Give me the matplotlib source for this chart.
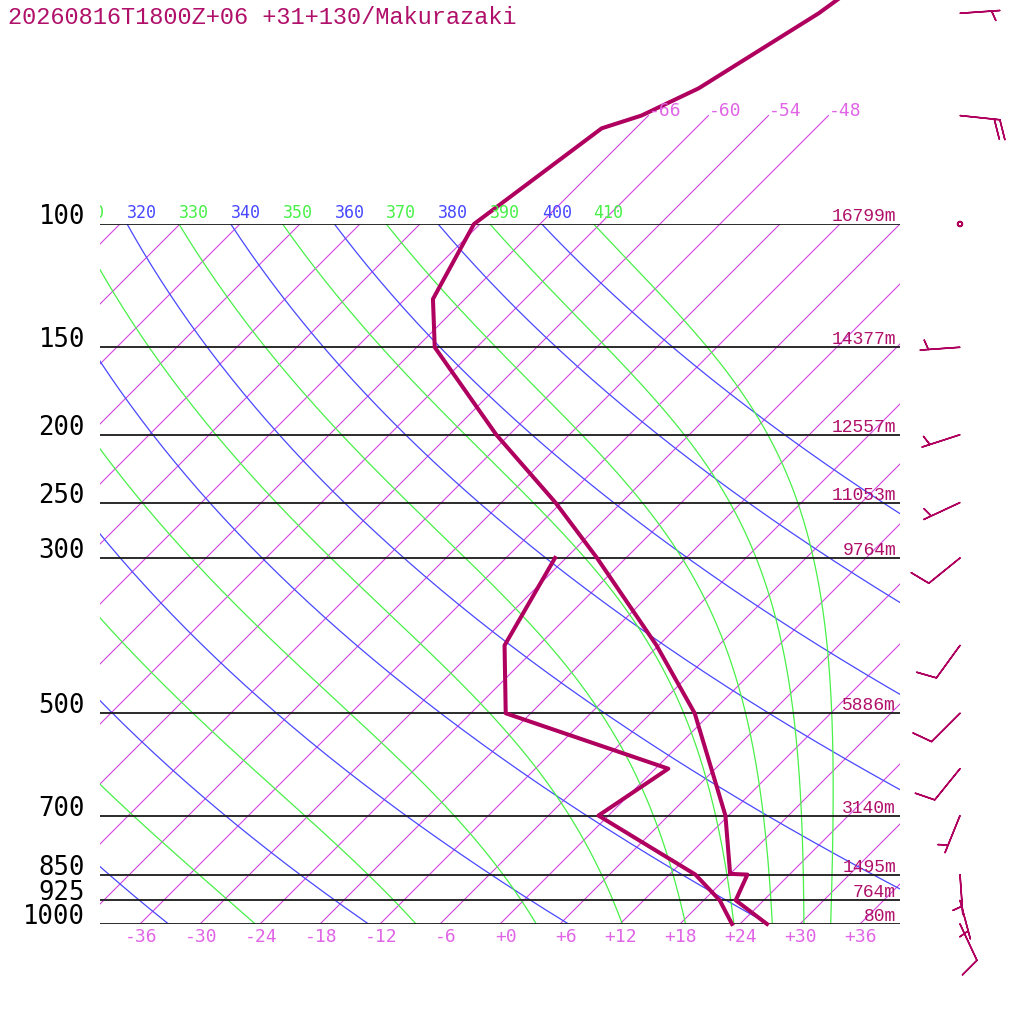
import numpy as np
import matplotlib
matplotlib.use("Agg")
import matplotlib.pyplot as plt
from matplotlib import transforms

# ---- sounding data ----
title = "20260816T1800Z+06 +31+130/Makurazaki"

temp_p = [1000, 925, 850, 848, 700, 500, 400, 300, 250, 200, 150, 128, 100, 73, 70, 64, 50, 45]
temp_t = [26.7, 21.2, 19.8, 18.0, 11.7, -1.6, -12.2, -26.9, -36.6, -49.3, -64.2, -69.2, -72.6,
          -69.4, -66.7, -63.7, -59.2, -58.0]

dew_p = [1000, 925, 850, 700, 600, 500, 400, 300]
dew_t = [23.2, 19.6, 14.6, -1.0, 1.3, -20.5, -27.4, -31.1]

level_p = [100, 150, 200, 250, 300, 500, 700, 850, 925, 1000]
level_h = [16799, 14377, 12557, 11053, 9764, 5886, 3140, 1495, 764, 80]

wind_p = [1000, 925, 850, 700, 600, 500, 400, 300, 250, 200, 150, 100, 70, 50]
wind_dir = [155, 165, 176, 202, 219, 225, 216, 231, 245, 252, 266, 0, 96, 86]
wind_spd = [10, 5, 5, 5, 10, 10, 10, 10, 5, 5, 5, 0, 20, 5]

iso_temps = np.arange(-150, 41, 6)
iso_labels = np.arange(-36, 37, 6)
iso_upper = [-66, -60, -54, -48]
dry_thetas = np.arange(240, 401, 20)
moist_thetas = np.arange(250, 411, 20)

# colours
C_PROF = "#b0005f"
C_TEXT = "#b0106a"
C_ISO = "#d444e0"
C_ISO_TXT = "#e064e6"
C_DRY = "#4848ff"
C_MOIST = "#48f048"

RD, CPD, LV, EPS = 287.04, 1005.7, 2.501e6, 0.622
KAPPA = RD / CPD


def sat_mixing(p, tk):
    tc = tk - 273.15
    es = 6.112 * np.exp(17.67 * tc / (tc + 243.5))
    return EPS * es / (p - es)


def dlnp(lnp, tk):
    p = np.exp(lnp)
    rs = sat_mixing(p, tk)
    return (RD * tk + LV * rs) / (CPD + LV ** 2 * rs * EPS / (RD * tk ** 2))


def moist_curve(theta, plev):
    # start (nearly dry) at the top and walk down the pseudo-adiabat
    tk = theta * (plev[0] / 1000.0) ** KAPPA
    out = [tk]
    for p0, p1 in zip(plev[:-1], plev[1:]):
        a, b = np.log(p0), np.log(p1)
        h = b - a
        k1 = dlnp(a, tk)
        k2 = dlnp(a + h / 2, tk + h * k1 / 2)
        k3 = dlnp(a + h / 2, tk + h * k2 / 2)
        k4 = dlnp(b, tk + h * k3)
        tk = tk + h * (k1 + 2 * k2 + 2 * k3 + k4) / 6
        out.append(tk)
    return np.array(out) - 273.15


fig = plt.figure(figsize=(10.24, 10.24), dpi=100)
ax = fig.add_axes([100 / 1024, 100 / 1024, 800 / 1024, 700 / 1024])
ax.set_yscale("log")
ax.set_xlim(-40, 40)
ax.set_ylim(1000, 100)
ax.axis("off")

# 45 degree skew in display space, anchored at the 1000 hPa line
y0 = 100
skew = transforms.Affine2D().translate(0, -y0).skew_deg(45, 0).translate(0, y0)
tr = ax.transData + skew

plev = np.geomspace(100, 1000, 300)
label_clip = transforms.Bbox.from_extents(100, 0, 900, 1024)


def theta_label(t100, th, color):
    # label sits on the 100 hPa line; skip the ones that fall wholly left of the frame
    x_px = tr.transform((t100, 100))[0]
    if x_px < 60:
        return
    txt = ax.text(t100, 100, "%d" % th, color=color, fontsize=12, family="DejaVu Sans Mono",
                  ha="left", va="baseline",
                  transform=transforms.offset_copy(tr, fig, x=0, y=6, units="dots"))
    txt.set_clip_box(label_clip)
    txt.set_clip_on(True)


# isotherms
for t in iso_temps:
    ax.plot([t, t], [1000, 100], color=C_ISO, lw=0.8, transform=tr)
for t in iso_upper:
    ax.plot([t, t], [100, 70], color=C_ISO, lw=0.8, transform=tr, clip_on=False)
    ax.text(t, 70, "%d" % t, color=C_ISO_TXT, fontsize=13, family="DejaVu Sans Mono",
            ha="left", va="baseline", transform=tr)
for t in iso_labels:
    ax.text(t, 1000, "%+d" % t, color=C_ISO_TXT, fontsize=13, family="DejaVu Sans Mono",
            ha="right", va="baseline",
            transform=transforms.offset_copy(tr, fig, x=17, y=-18, units="dots"))

# dry adiabats
for th in dry_thetas:
    tt = th * (plev / 1000.0) ** KAPPA - 273.15
    ax.plot(tt, plev, color=C_DRY, lw=0.9, transform=tr)
    theta_label(tt[0], th, C_DRY)

# moist adiabats
for th in moist_thetas:
    tt = moist_curve(th, plev)
    ax.plot(tt, plev, color=C_MOIST, lw=0.9, transform=tr)
    theta_label(tt[0], th, C_MOIST)

# pressure levels, labels and heights
ax.hlines(level_p, -40, 40, color="#1a1a1a", lw=1.3)
for p, h in zip(level_p, level_h):
    ax.text(-40, p, "%d" % p, color="black", fontsize=18.5, family="DejaVu Sans Mono",
            ha="right", va="baseline",
            transform=transforms.offset_copy(ax.transData, fig, x=-15, y=0, units="dots"))
    ax.text(40, p, "%dm" % h, color=C_TEXT, fontsize=13, family="Liberation Mono",
            ha="right", va="baseline",
            transform=transforms.offset_copy(ax.transData, fig, x=-4, y=3, units="dots"))

# temperature and dew point
ax.plot(temp_t, temp_p, color=C_PROF, lw=2.9, transform=tr, clip_on=False)
ax.plot(dew_t, dew_p, color=C_PROF, lw=2.9, transform=tr, clip_on=False)

# wind barbs
wd = np.radians(wind_dir)
u = -np.array(wind_spd) * np.sin(wd)
v = -np.array(wind_spd) * np.cos(wd)
ax.barbs(np.full(len(wind_p), 46.0), wind_p, u, v, length=7.6, color=C_PROF, lw=1.1,
         sizes=dict(spacing=0.14, height=0.48, width=0.35, emptybarb=0.06),
         clip_on=False)

fig.text(8 / 1024, 1000 / 1024, title, color=C_TEXT, fontsize=17, family="Liberation Mono",
         ha="left", va="baseline")

fig.savefig("out.png", dpi=100, facecolor="white")
